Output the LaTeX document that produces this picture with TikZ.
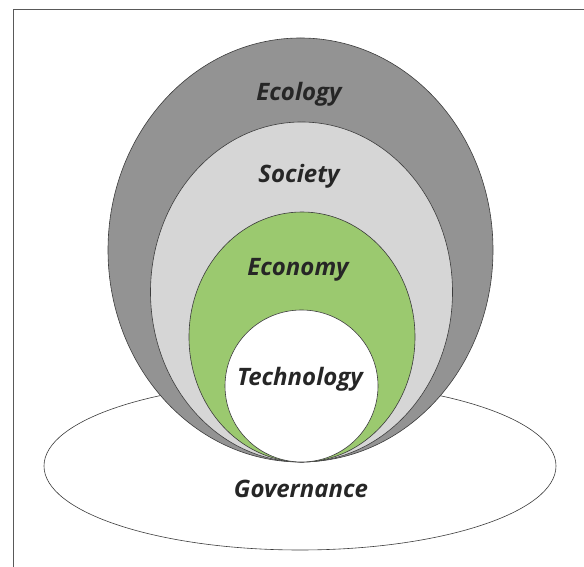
\documentclass[tikz,border=0pt]{standalone}
\usepackage{fontspec}
\setsansfont{Open Sans}
\usepackage{tikz}
\usetikzlibrary{shapes.geometric,positioning}
\definecolor{ecogrey}{HTML}{939393}
\definecolor{socgrey}{HTML}{D6D6D6}
\definecolor{econgreen}{HTML}{9BC96F}
\definecolor{linegrey}{HTML}{3C3C3C}
\definecolor{textgrey}{HTML}{262626}

\begin{document}
\begin{tikzpicture}[
    x=1pt, y=1pt,
    ring/.style={
        ellipse,
        draw=linegrey,
        line width=0.6pt,
        inner sep=0pt,
        outer sep=0pt
    },
    word/.style={
        anchor=base,
        text=textgrey,
        font=\sffamily\bfseries\itshape\fontsize{24}{28}\selectfont
    }
]
% --- 畫面範圍 ---
\useasboundingbox (0,0) rectangle (584,567);
\clip (0,0) rectangle (584,567);
\draw[linegrey!85, line width=1pt] (13,-20) -- (13,557) -- (620,557);

% --- 底層橢圓 ---
\node[ring, fill=white, minimum width=512, minimum height=168] (gov) at (300,101) {};

% --- 同心橢圓 (外到內) ---
\node[ring, fill=ecogrey, minimum width=385, minimum height=424] (eco) at (300.5,317) {};
\node[ring, fill=socgrey, minimum width=302, minimum height=340] (soc) at (301.5,275) {};
\node[ring, fill=econgreen, minimum width=226, minimum height=250] (econ) at (302,230) {};
\node[ring, fill=white, minimum width=153, minimum height=152] (tech) at (301.5,181) {};

% --- 文字 ---
\node[word] (ecolbl) at (299,466) {Ecology};
\node[word] (soclbl) at (299,384) {Society};
\node[word] (econlbl) at (298,291) {Economy};
\node[word] (techlbl) at (300,181) {Technology};
\node[word] (govlbl) at (301,69) {Governance};
\end{tikzpicture}
\end{document}
